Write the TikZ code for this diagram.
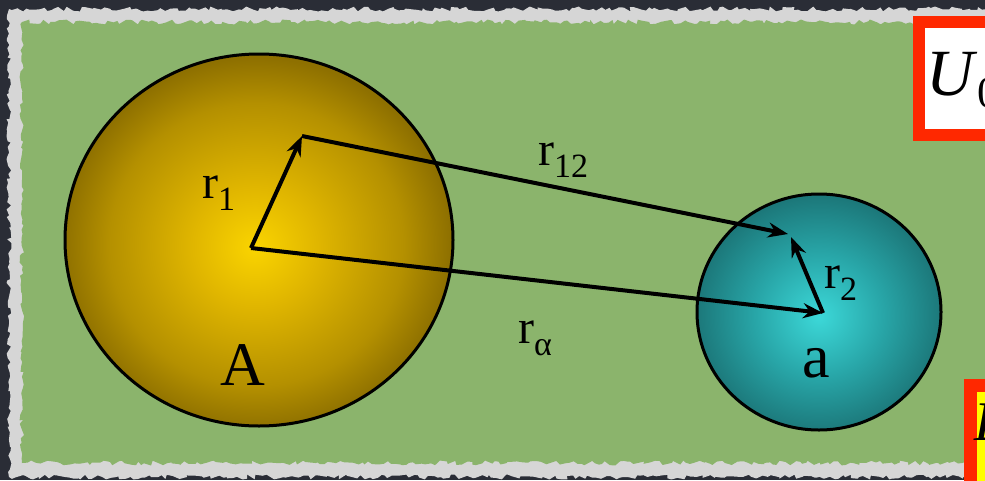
\documentclass[tikz,border=0pt]{standalone}
\usepackage{fontspec}
\setmainfont{Liberation Serif}
\usetikzlibrary{arrows.meta,decorations.pathmorphing,shapes.geometric}
\definecolor{bgdark}{RGB}{42,45,54}
\definecolor{framegrey}{RGB}{214,214,214}
\definecolor{fieldgreen}{RGB}{139,180,108}
\definecolor{goldA}{RGB}{250,212,0}
\definecolor{goldB}{RGB}{224,182,0}
\definecolor{goldC}{RGB}{180,144,0}
\definecolor{goldD}{RGB}{142,112,0}
\definecolor{tealA}{RGB}{60,216,216}
\definecolor{tealB}{RGB}{40,166,168}
\definecolor{tealC}{RGB}{28,120,122}
\definecolor{boxred}{RGB}{255,40,0}
\definecolor{boxyellow}{RGB}{255,255,0}
\pgfdeclareradialshading{goldball}{\pgfpoint{-0.6bp}{-1bp}}{color(0bp)=(goldA); color(8bp)=(goldB); color(19bp)=(goldC); color(25bp)=(goldD); color(50bp)=(goldD)}
\pgfdeclareradialshading{tealball}{\pgfpoint{0bp}{-1bp}}{color(0bp)=(tealA); color(13bp)=(tealB); color(25bp)=(tealC); color(50bp)=(tealC)}
\newcommand{\sub}[1]{\raisebox{-12pt}{\fontsize{34}{36}\selectfont #1}}
\begin{document}
\begin{tikzpicture}[x=1pt,y=-1pt,
  vec/.style={line width=4pt,-{Stealth[length=20pt,width=15pt]}},
  lab/.style={anchor=base west,inner sep=0pt,font=\fontsize{48}{50}\selectfont},
  biglab/.style={anchor=base west,inner sep=0pt,font=\fontsize{62}{64}\selectfont},
  rough/.style={decorate,decoration={random steps,segment length=4pt,amplitude=2.5pt}},
  ball/.style={ellipse,draw=black,line width=3pt,inner sep=0pt}]
\useasboundingbox (0,0) rectangle (985,480);
\clip (0,0) rectangle (985,480);
\fill[bgdark] (0,0) rectangle (985,480);
\fill[framegrey,rough] (9,9) rectangle (1000,477);
\fill[fieldgreen,rough] (22,22) rectangle (1000,463);
% spheres
\node (A) [ball,shading=goldball,minimum width=388pt,minimum height=372pt] at (259,240) {};
\node (a) [ball,shading=tealball,minimum width=244pt,minimum height=236pt] at (819,312) {};
% points
\coordinate (o1) at (251,248);
\coordinate (p1) at (302,136);
\coordinate (q12) at (788,234);
\coordinate (o2) at (823,313);
\coordinate (p2) at (791,237);
% vectors
\draw[vec] (o1) -- (p1);
\draw[vec] (p1) -- (q12);
\draw[vec] (o1) -- (o2);
\draw[vec] (o2) -- (p2);
% labels
\node (lr1) [lab] at (202,198) {r\sub{1}};
\node (lr12) [lab] at (538,165) {r\sub{12}};
\node (lra) [lab] at (518,343) {r\sub{α}};
\node (lr2) [lab] at (824,288) {r\sub{2}};
\node (lA) [biglab] at (220,385) {A};
\node (la) [biglab] at (802,377) {a};
% boxes at right
\node (ubox) [draw=boxred,line width=12pt,fill=white,anchor=north west,minimum width=100pt,minimum height=113pt] at (913,16) {};
\node (utext) [anchor=base west,inner sep=0pt,font=\fontsize{66}{68}\selectfont] at (926,95) {\textit{U}\raisebox{-12pt}{\fontsize{44}{46}\selectfont 0}};
\node (ebox) [draw=boxred,line width=13pt,fill=boxyellow,anchor=north west,minimum width=60pt,minimum height=130pt] at (963.5,378.5) {};
\node (etext) [anchor=base west,inner sep=0pt,font=\fontsize{56}{58}\selectfont] at (974,440) {\textit{E}};
\end{tikzpicture}
\end{document}
